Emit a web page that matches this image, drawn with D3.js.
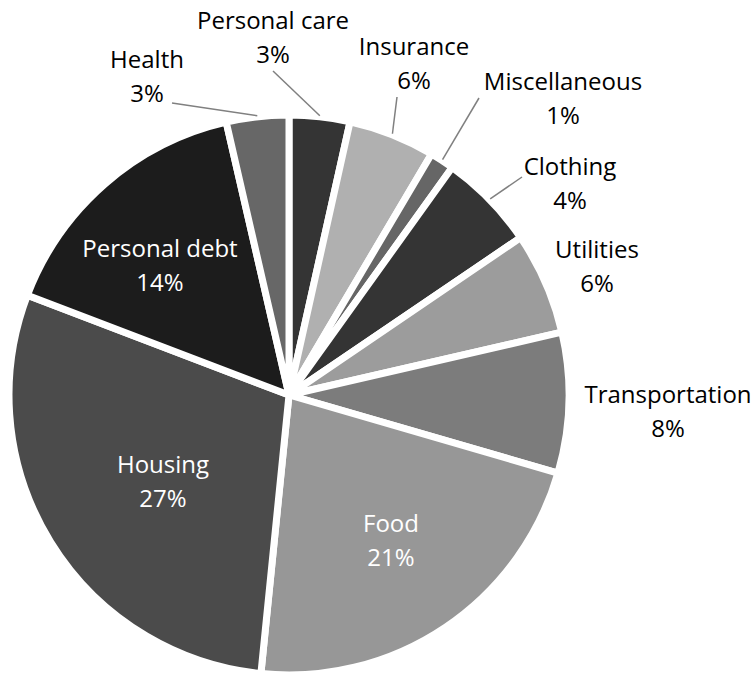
<!DOCTYPE html>
<html>
<head>
<meta charset="utf-8">
<script src="https://cdn.jsdelivr.net/npm/d3@7"></script>
<style>
  html, body { margin: 0; padding: 0; background: #ffffff; }
  svg { display: block; }
</style>
</head>
<body>
<svg id="chart" width="755" height="675"></svg>
<script>
// ---- data ----
const categories = ["Personal care", "Insurance", "Miscellaneous", "Clothing", "Utilities",
                    "Transportation", "Food", "Housing", "Personal debt", "Health"];
const shares = [3.5, 5.0, 1.4, 5.6, 5.9, 8.1, 22.1, 29.2, 15.6, 3.6];
// percentage text printed on each label
const percentLabels = ["3%", "6%", "1%", "4%", "6%", "8%", "21%", "27%", "14%", "3%"];

// ---- styling / layout (not data) ----
const fills = ["#343434", "#b0b0b0", "#666666", "#343434", "#9c9c9c",
               "#7c7c7c", "#979797", "#4b4b4b", "#1c1c1c", "#676767"];
const insideLabel = { "Food": true, "Housing": true, "Personal debt": true };
// label anchor: centre x and first baseline y; optional leader start
const labelLayout = {
  "Personal care":  { x: 273, y: 29,  lead: [273, 71] },
  "Insurance":      { x: 414, y: 55,  lead: [397, 97] },
  "Miscellaneous":  { x: 563, y: 90,  lead: [479, 98] },
  "Clothing":       { x: 570, y: 175, lead: [522, 177] },
  "Utilities":      { x: 597, y: 258 },
  "Transportation": { x: 668, y: 403 },
  "Food":           { x: 391, y: 532 },
  "Housing":        { x: 163, y: 473 },
  "Personal debt":  { x: 160, y: 257 },
  "Health":         { x: 147, y: 68,  lead: [172, 103] }
};
const lineGap = 34;
const cx = 289, cy = 395, R = 280;

const rows = categories.map((c, i) => ({ name: c, value: shares[i], pct: percentLabels[i], fill: fills[i] }));

const svg = d3.select("#chart");
const g = svg.append("g").attr("transform", `translate(${cx},${cy})`);

const pie = d3.pie().sort(null).value(d => d.value).startAngle(0).endAngle(2 * Math.PI);
const arc = d3.arc().innerRadius(0).outerRadius(R);
const arcs = pie(rows);

g.selectAll("path.slice")
  .data(arcs)
  .join("path")
  .attr("class", "slice")
  .attr("d", arc)
  .attr("fill", d => d.data.fill)
  .attr("stroke", "#ffffff")
  .attr("stroke-width", 7)
  .attr("stroke-linejoin", "round");

// leader lines
const rimArc = d3.arc().innerRadius(R + 1).outerRadius(R + 1);
const leaders = arcs.filter(d => labelLayout[d.data.name].lead);
svg.selectAll("line.leader")
  .data(leaders)
  .join("line")
  .attr("class", "leader")
  .attr("x1", d => labelLayout[d.data.name].lead[0])
  .attr("y1", d => labelLayout[d.data.name].lead[1])
  .attr("x2", d => {
    const a = (d.startAngle + d.endAngle) / 2;
    return cx + Math.sin(a) * (R + 1);
  })
  .attr("y2", d => {
    const a = (d.startAngle + d.endAngle) / 2;
    return cy - Math.cos(a) * (R + 1);
  })
  .attr("stroke", "#808080")
  .attr("stroke-width", 1.5);

// labels
const labels = svg.selectAll("text.lbl")
  .data(arcs)
  .join("text")
  .attr("class", "lbl")
  .attr("text-anchor", "middle")
  .attr("font-family", "'Open Sans', 'Noto Sans', sans-serif")
  .attr("font-size", 24)
  .attr("fill", d => insideLabel[d.data.name] ? "#ffffff" : "#000000");

labels.append("tspan")
  .attr("x", d => labelLayout[d.data.name].x)
  .attr("y", d => labelLayout[d.data.name].y)
  .text(d => d.data.name);
labels.append("tspan")
  .attr("x", d => labelLayout[d.data.name].x)
  .attr("y", d => labelLayout[d.data.name].y + lineGap)
  .text(d => d.data.pct);
</script>
</body>
</html>
